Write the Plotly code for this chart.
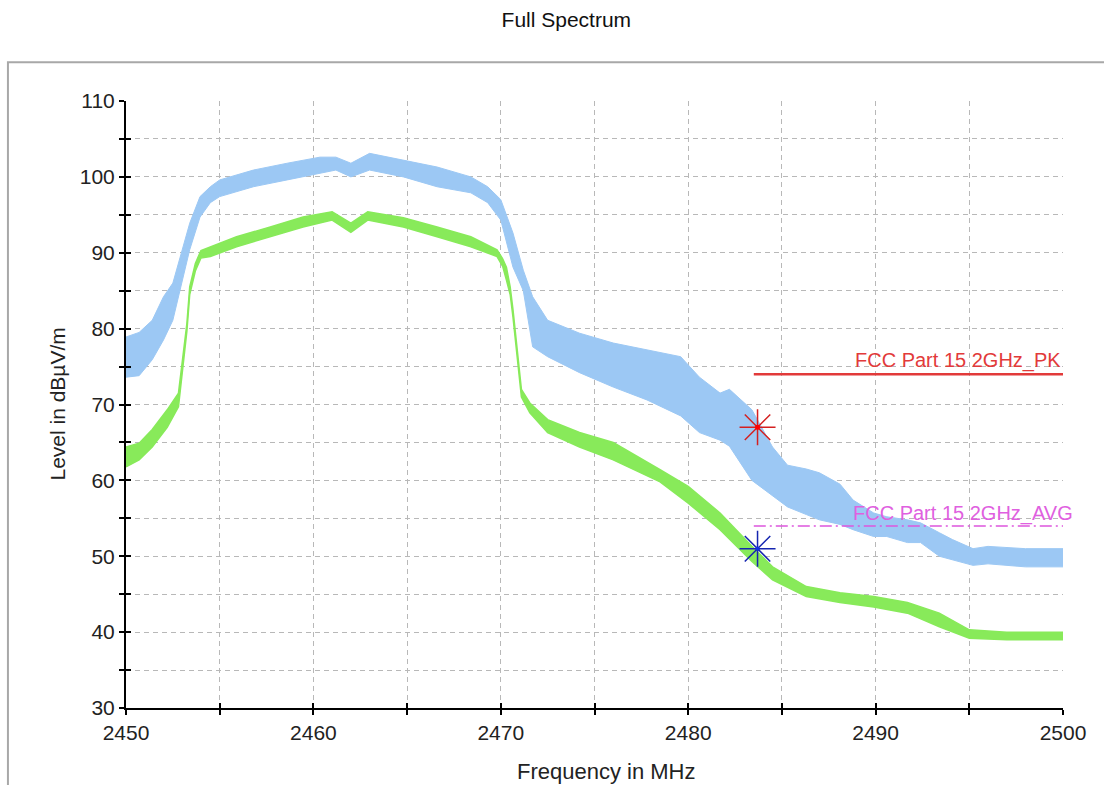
import plotly.graph_objects as go

# ---- data ----
pk_freq = [2450.0, 2450.7, 2451.4, 2452.0, 2452.5, 2453.0, 2453.4, 2453.95, 2454.5, 2455.0,
           2456.8, 2458.6, 2460.35, 2461.2, 2462.0, 2463.0, 2464.8, 2466.6, 2468.4, 2469.3,
           2470.0, 2470.65, 2471.2, 2471.7, 2472.5, 2474.2, 2476.0, 2477.8, 2479.6, 2480.6,
           2481.7, 2482.2, 2483.4, 2484.5, 2485.3, 2486.3, 2487.0, 2488.1, 2488.8, 2489.9,
           2490.6, 2491.7, 2492.4, 2493.4, 2494.1, 2495.2, 2496.0, 2498.0, 2500.0]
pk_low = [73.6, 73.8, 75.9, 78.5, 81.1, 86.4, 90.4, 94.7, 96.6, 97.4,
          98.7, 99.6, 100.5, 100.9, 100.0, 100.9, 100.0, 98.7, 97.9, 96.6,
          94.3, 88.1, 85.0, 77.6, 76.3, 74.2, 72.3, 70.6, 68.5, 66.3,
          65.3, 64.5, 60.0, 58.0, 56.5, 55.5, 54.8, 54.2, 53.5, 52.6,
          52.6, 51.8, 51.8, 50.0, 49.5, 48.8, 49.0, 48.6, 48.6]
pk_high = [78.9, 79.5, 81.1, 84.2, 86.0, 90.4, 93.9, 97.4, 98.7, 99.6,
           100.9, 101.8, 102.6, 102.6, 101.8, 103.1, 102.2, 101.3, 100.0, 98.7,
           97.0, 92.6, 87.7, 84.2, 81.1, 79.4, 78.1, 77.2, 76.3, 73.6,
           71.5, 72.0, 69.3, 64.4, 62.0, 61.5, 61.0, 59.5, 57.4, 55.7,
           55.2, 54.8, 54.4, 53.1, 52.2, 51.0, 51.3, 51.0, 51.0]

av_freq = [2450.0, 2450.7, 2451.4, 2452.2, 2452.8, 2453.0, 2453.25, 2453.4, 2453.7, 2454.0,
           2454.5, 2455.9, 2457.7, 2459.45, 2461.0, 2462.0, 2462.9, 2464.8, 2466.6, 2468.4,
           2469.8, 2470.1, 2470.3, 2470.5, 2470.65, 2470.9, 2471.1, 2471.55, 2472.5, 2474.2,
           2476.0, 2478.5, 2480.0, 2481.7, 2483.4, 2484.5, 2486.3, 2488.1, 2489.9, 2491.7,
           2493.4, 2495.0, 2497.0, 2500.0]
av_low = [61.8, 62.7, 64.4, 67.0, 69.7, 74.0, 79.7, 84.5, 87.6, 89.3,
          89.5, 90.8, 92.1, 93.4, 94.3, 92.7, 94.3, 93.4, 92.1, 90.8,
          89.5, 88.2, 86.4, 84.5, 81.5, 76.0, 71.0, 68.9, 66.3, 64.4,
          62.7, 59.8, 57.0, 53.5, 49.3, 46.9, 44.7, 43.9, 43.3, 42.5,
          40.7, 39.2, 39.0, 39.0]
av_high = [64.4, 64.9, 66.7, 69.3, 71.5, 75.5, 80.7, 85.5, 88.6, 90.3,
           90.8, 92.1, 93.4, 94.7, 95.4, 93.9, 95.4, 94.6, 93.4, 92.1,
           90.4, 89.2, 88.1, 85.5, 82.5, 77.0, 72.0, 70.2, 68.0, 66.3,
           65.0, 61.4, 59.2, 55.7, 51.3, 48.6, 46.0, 45.2, 44.7, 43.9,
           42.5, 40.3, 40.0, 40.0]

limit_freq = [2483.5, 2500.0]
limit_pk = [74.0, 74.0]
limit_avg = [54.0, 54.0]
limit_pk_name = "FCC Part 15 2GHz_PK"
limit_avg_name = "FCC Part 15 2GHz_AVG"

marker_pk = (2483.7, 67.0)
marker_av = (2483.7, 51.0)

x_range = [2450, 2500]
y_range = [30, 110]

BLUE = "#9cc8f4"
GREEN = "#88ea5a"
RED = "#e23a3a"
MAGENTA = "#dd55dd"
FONT = "Arial, Liberation Sans"

fig = go.Figure()

# peak trace band
fig.add_trace(go.Scatter(x=pk_freq, y=pk_low, mode="lines", line=dict(color=BLUE, width=1),
                         showlegend=False, hoverinfo="skip"))
fig.add_trace(go.Scatter(x=pk_freq, y=pk_high, mode="lines", line=dict(color=BLUE, width=1),
                         fill="tonexty", fillcolor=BLUE, showlegend=False, hoverinfo="skip"))
# average trace band
fig.add_trace(go.Scatter(x=av_freq, y=av_low, mode="lines", line=dict(color=GREEN, width=1.5),
                         showlegend=False, hoverinfo="skip"))
fig.add_trace(go.Scatter(x=av_freq, y=av_high, mode="lines", line=dict(color=GREEN, width=1.5),
                         fill="tonexty", fillcolor=GREEN, showlegend=False, hoverinfo="skip"))

# limit lines
fig.add_trace(go.Scatter(x=limit_freq, y=limit_pk, mode="lines", line=dict(color=RED, width=2.5),
                         showlegend=False, hoverinfo="skip"))
fig.add_trace(go.Scatter(x=limit_freq, y=limit_avg, mode="lines",
                         line=dict(color=MAGENTA, width=1.5, dash="12px,4px,2px,4px"),
                         showlegend=False, hoverinfo="skip"))

# markers
fig.add_trace(go.Scatter(x=[marker_pk[0]], y=[marker_pk[1]], mode="markers",
                         marker=dict(symbol="asterisk-open", size=30, color="#d42020",
                                     line=dict(color="#d42020", width=1.5)),
                         showlegend=False, hoverinfo="skip"))
fig.add_trace(go.Scatter(x=[marker_pk[0]], y=[marker_pk[1]], mode="markers",
                         marker=dict(symbol="circle", size=5, color="#ff0000"),
                         showlegend=False, hoverinfo="skip"))
fig.add_trace(go.Scatter(x=[marker_av[0]], y=[marker_av[1]], mode="markers",
                         marker=dict(symbol="asterisk-open", size=30, color="#1525b0",
                                     line=dict(color="#1525b0", width=1.5)),
                         showlegend=False, hoverinfo="skip"))
fig.add_trace(go.Scatter(x=[marker_av[0]], y=[marker_av[1]], mode="markers",
                         marker=dict(symbol="circle", size=4, color="#1030e0"),
                         showlegend=False, hoverinfo="skip"))

# dummy trace for overlay axes (crossing ticks)
fig.add_trace(go.Scatter(x=[None], y=[None], xaxis="x2", yaxis="y2", showlegend=False, hoverinfo="skip"))

# limit labels
fig.add_annotation(x=1.0, y=limit_pk[0], xref="paper", yref="y", text=limit_pk_name, showarrow=False,
                   xanchor="right", yanchor="bottom", yshift=0,
                   font=dict(family=FONT, size=20, color=RED))
fig.add_annotation(x=1.0128, y=limit_avg[0], xref="paper", yref="y", text=limit_avg_name, showarrow=False,
                   xanchor="right", yanchor="bottom", yshift=-1,
                   font=dict(family=FONT, size=20, color="#e060e0"))

# axis titles
fig.add_annotation(x=0.513, y=-0.104, xref="paper", yref="paper", text="Frequency in MHz",
                   showarrow=False, xanchor="center", yanchor="middle",
                   font=dict(family=FONT, size=22, color="#222222"))
fig.add_annotation(x=-0.0736, y=0.5, xref="paper", yref="paper", text="Level in dBµV/m",
                   showarrow=False, xanchor="center", yanchor="middle", textangle=-90,
                   font=dict(family=FONT, size=21, color="#222222"))

GRID = "#b8b8b8"
common_axis = dict(showline=True, linecolor="black", linewidth=2, ticks="outside", ticklen=5,
                   tickcolor="black", tickwidth=1.5, showgrid=True, gridcolor=GRID, gridwidth=1,
                   griddash="5px,4px", zeroline=False,
                   tickfont=dict(family=FONT, size=21, color="#222222"))

fig.update_layout(
    width=1104, height=785,
    margin=dict(l=126, r=41, t=101, b=77),
    paper_bgcolor="white", plot_bgcolor="white",
    title=dict(text="Full Spectrum", x=0.513, xanchor="center", y=0.975, yanchor="middle",
               font=dict(family=FONT, size=21, color="#111111")),
    xaxis=dict(range=x_range, dtick=10, tick0=2450,
               minor=dict(dtick=5, ticks="outside", ticklen=5, tickcolor="black", tickwidth=1.5,
                          showgrid=True, gridcolor=GRID, griddash="5px,4px"),
               **common_axis),
    yaxis=dict(range=y_range, dtick=10, tick0=30,
               minor=dict(dtick=5, ticks="outside", ticklen=5, tickcolor="black", tickwidth=1.5,
                          showgrid=True, gridcolor=GRID, griddash="5px,4px"),
               **common_axis),
    xaxis2=dict(range=x_range, overlaying="x", side="bottom", dtick=5, tick0=2450, ticks="inside",
                ticklen=5, tickcolor="black", tickwidth=1.5, showticklabels=False, showgrid=False,
                zeroline=False, showline=False),
    yaxis2=dict(range=y_range, overlaying="y", side="left", dtick=5, tick0=30, ticks="inside",
                ticklen=5, tickcolor="black", tickwidth=1.5, showticklabels=False, showgrid=False,
                zeroline=False, showline=False),
    shapes=[dict(type="rect", xref="paper", yref="paper", x0=-0.126, x1=1.06, y0=-0.14, y1=1.064,
                 line=dict(color="#a8a8a8", width=2), fillcolor="rgba(0,0,0,0)", layer="below")],
)

fig.write_html("out.html")
